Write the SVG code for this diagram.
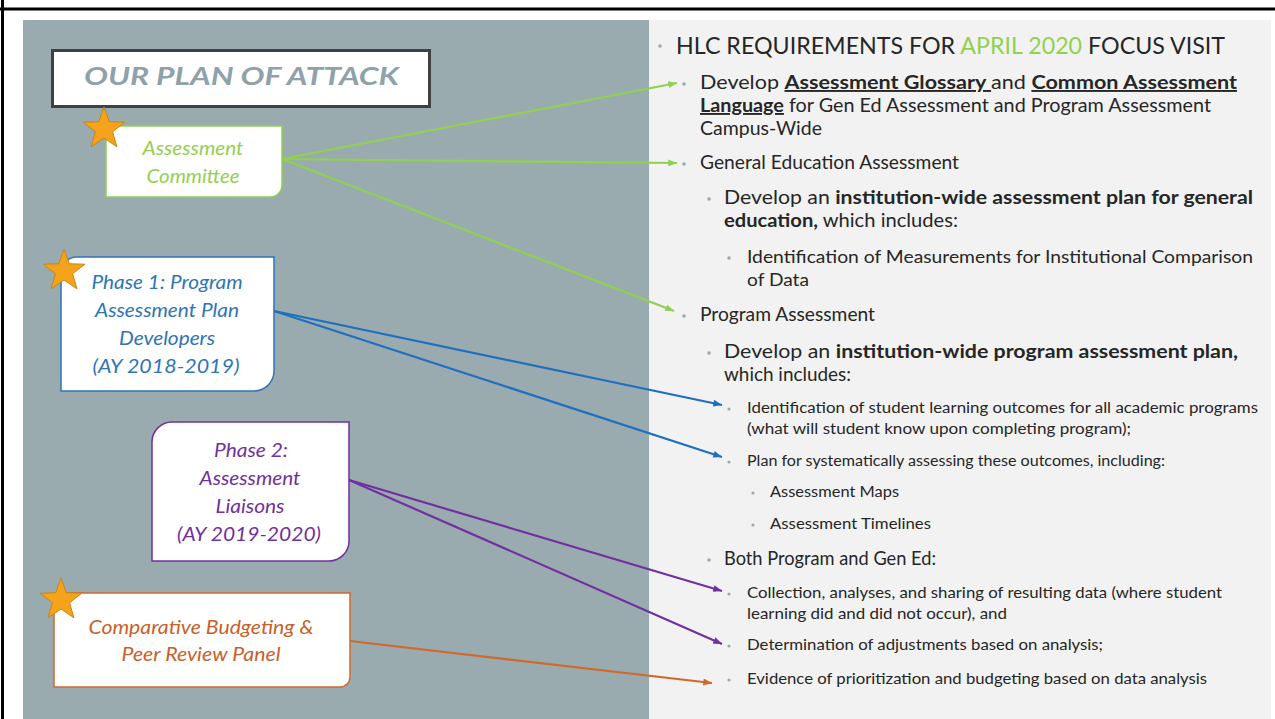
<svg xmlns="http://www.w3.org/2000/svg" width="1275" height="719" viewBox="0 0 1275 719">
<style>
  .box { stroke-width: 1.5; fill: #ffffff; }
  .star { fill: #f5a31a; stroke: #c98516; stroke-width: 1; }
  .lbl { font-family: Lato, "Open Sans", sans-serif; font-style: italic; font-size: 20px; text-anchor: middle; }
  .rt { font-family: Lato, "Open Sans", sans-serif; fill: #262626; }
  .b { font-weight: bold; }
  .u { text-decoration: underline; }
  .bul { fill: #9aabb0; }
  .con { fill: none; stroke-width: 2.2; }
</style>
<defs>
  <path id="starShape" d="M0,-22 L5.29,-7.28 L20.92,-6.8 L8.56,2.78 L12.93,17.8 L0,9 L-12.93,17.8 L-8.56,2.78 L-20.92,-6.8 L-5.29,-7.28 Z"/>
  <marker id="mG" viewBox="0 0 10 8" refX="10" refY="4" markerWidth="9" markerHeight="7" markerUnits="userSpaceOnUse" orient="auto"><path d="M0,0 L10,4 L0,8 Z" fill="#92d050"/></marker>
  <marker id="mB" viewBox="0 0 10 8" refX="10" refY="4" markerWidth="9" markerHeight="7" markerUnits="userSpaceOnUse" orient="auto"><path d="M0,0 L10,4 L0,8 Z" fill="#1f6fbf"/></marker>
  <marker id="mP" viewBox="0 0 10 8" refX="10" refY="4" markerWidth="9" markerHeight="7" markerUnits="userSpaceOnUse" orient="auto"><path d="M0,0 L10,4 L0,8 Z" fill="#7030a0"/></marker>
  <marker id="mO" viewBox="0 0 10 8" refX="10" refY="4" markerWidth="9" markerHeight="7" markerUnits="userSpaceOnUse" orient="auto"><path d="M0,0 L10,4 L0,8 Z" fill="#d0692a"/></marker>
</defs>

<!-- background & frame -->
<rect x="0" y="0" width="1275" height="719" fill="#ffffff"/>
<rect x="23" y="20" width="626" height="699" fill="#9aabb0"/>
<rect x="649" y="20" width="622" height="699" fill="#f2f2f2"/>
<line x1="0" y1="9" x2="1275" y2="9" stroke="#000" stroke-width="3"/>
<line x1="2.5" y1="0" x2="2.5" y2="719" stroke="#000" stroke-width="3"/>

<!-- title box -->
<g id="plan-title">
  <rect x="54" y="52" width="377" height="56" fill="#7d8a90" opacity="0.5"/>
  <rect x="52.5" y="50.5" width="377" height="56" fill="#ffffff" stroke="#404040" stroke-width="3"/>
  <text x="84" y="85" textLength="315" lengthAdjust="spacingAndGlyphs" style="font-family: Lato, 'Open Sans', sans-serif; font-weight: bold; font-style: italic; font-size: 25px; fill: #8fa1a9;">OUR PLAN OF ATTACK</text>
</g>

<!-- connectors -->
<g id="connectors">
  <path class="con" stroke="#92d050" d="M282,159 L677,83" marker-end="url(#mG)"/>
  <path class="con" stroke="#92d050" d="M282,159 L677,163" marker-end="url(#mG)"/>
  <path class="con" stroke="#92d050" d="M282,159 L674,311" marker-end="url(#mG)"/>
  <path class="con" stroke="#1f6fbf" d="M274,311 L722,405" marker-end="url(#mB)"/>
  <path class="con" stroke="#1f6fbf" d="M274,311 L722,457" marker-end="url(#mB)"/>
  <path class="con" stroke="#7030a0" d="M349,480 L722,591" marker-end="url(#mP)"/>
  <path class="con" stroke="#7030a0" d="M349,480 L722,644" marker-end="url(#mP)"/>
  <path class="con" stroke="#d0692a" d="M350,641 L712,683" marker-end="url(#mO)"/>
</g>

<!-- nodes -->
<g id="assessment-committee">
  <path class="box" stroke="#92d050" d="M116,126 H282 V185 A12,12 0 0 1 270,197 H106 V136 A10,10 0 0 1 116,126 Z"/>
  <text class="lbl" x="193" y="155" fill="#92d050" textLength="101" lengthAdjust="spacingAndGlyphs">Assessment</text>
  <text class="lbl" x="193" y="183" fill="#92d050" textLength="93" lengthAdjust="spacingAndGlyphs">Committee</text>
  <use href="#starShape" class="star" transform="translate(104,129)"/>
</g>

<g id="phase1">
  <path class="box" stroke="#2e75b6" d="M77,257 H274 V371 A20,20 0 0 1 254,391 H61 V273 A16,16 0 0 1 77,257 Z"/>
  <text class="lbl" x="167" y="289" fill="#2e75b6" textLength="151" lengthAdjust="spacingAndGlyphs">Phase 1: Program</text>
  <text class="lbl" x="167" y="317" fill="#2e75b6" textLength="144" lengthAdjust="spacingAndGlyphs">Assessment Plan</text>
  <text class="lbl" x="167" y="345" fill="#2e75b6" textLength="96" lengthAdjust="spacingAndGlyphs">Developers</text>
  <text class="lbl" x="166" y="373" fill="#2e75b6" textLength="147" lengthAdjust="spacingAndGlyphs">(AY 2018-2019)</text>
  <use href="#starShape" class="star" transform="translate(64,271)"/>
</g>

<g id="phase2">
  <path class="box" stroke="#7030a0" d="M172,422 H349 V541 A20,20 0 0 1 329,561 H152 V442 A20,20 0 0 1 172,422 Z"/>
  <text class="lbl" x="251" y="457" fill="#7030a0" textLength="74" lengthAdjust="spacingAndGlyphs">Phase 2:</text>
  <text class="lbl" x="250" y="485" fill="#7030a0" textLength="101" lengthAdjust="spacingAndGlyphs">Assessment</text>
  <text class="lbl" x="250" y="513" fill="#7030a0" textLength="69" lengthAdjust="spacingAndGlyphs">Liaisons</text>
  <text class="lbl" x="249" y="541" fill="#7030a0" textLength="144" lengthAdjust="spacingAndGlyphs">(AY 2019-2020)</text>
</g>

<g id="budget-panel">
  <path class="box" stroke="#d0692a" d="M64,593 H350 V677 A10,10 0 0 1 340,687 H54 V603 A10,10 0 0 1 64,593 Z"/>
  <text class="lbl" x="201" y="634" fill="#c8602a" textLength="225" lengthAdjust="spacingAndGlyphs">Comparative Budgeting &amp;</text>
  <text class="lbl" x="201" y="661" fill="#c8602a" textLength="159" lengthAdjust="spacingAndGlyphs">Peer Review Panel</text>
  <use href="#starShape" class="star" transform="translate(61,600)"/>
</g>

<!-- right panel requirements -->
<g id="requirements">
  <circle class="bul" cx="660" cy="46" r="1.8"/>
  <circle class="bul" cx="684" cy="84" r="1.8"/>
  <circle class="bul" cx="684" cy="164" r="1.8"/>
  <circle class="bul" cx="709" cy="199" r="1.8"/>
  <circle class="bul" cx="729" cy="258" r="1.8"/>
  <circle class="bul" cx="684" cy="316" r="1.8"/>
  <circle class="bul" cx="709" cy="353" r="1.8"/>
  <circle class="bul" cx="729" cy="409" r="1.6"/>
  <circle class="bul" cx="729" cy="462" r="1.6"/>
  <circle class="bul" cx="753" cy="493" r="1.6"/>
  <circle class="bul" cx="753" cy="525" r="1.6"/>
  <circle class="bul" cx="709" cy="560" r="1.8"/>
  <circle class="bul" cx="729" cy="594" r="1.6"/>
  <circle class="bul" cx="729" cy="646" r="1.6"/>
  <circle class="bul" cx="729" cy="680" r="1.6"/>

  <text class="rt" x="676" y="54" font-size="24" textLength="549" lengthAdjust="spacingAndGlyphs">HLC REQUIREMENTS FOR <tspan fill="#92d050">APRIL 2020</tspan> FOCUS VISIT</text>
  <text class="rt" x="700" y="89" font-size="19" textLength="537" lengthAdjust="spacingAndGlyphs">Develop <tspan class="b u">Assessment Glossary </tspan>and <tspan class="b u">Common Assessment</tspan></text>
  <text class="rt" x="700" y="112" font-size="19" textLength="511" lengthAdjust="spacingAndGlyphs"><tspan class="b u">Language</tspan> for Gen Ed Assessment and Program Assessment</text>
  <text class="rt" x="700" y="135" font-size="19" textLength="122" lengthAdjust="spacingAndGlyphs">Campus-Wide</text>
  <text class="rt" x="700" y="169" font-size="19" textLength="259" lengthAdjust="spacingAndGlyphs">General Education Assessment</text>
  <text class="rt" x="724" y="204" font-size="19" textLength="529" lengthAdjust="spacingAndGlyphs">Develop an <tspan class="b">institution-wide assessment plan for general</tspan></text>
  <text class="rt" x="724" y="227" font-size="19" textLength="234" lengthAdjust="spacingAndGlyphs"><tspan class="b">education,</tspan> which includes:</text>
  <text class="rt" x="747" y="263" font-size="18" textLength="506" lengthAdjust="spacingAndGlyphs">Identification of Measurements for Institutional Comparison</text>
  <text class="rt" x="747" y="286" font-size="18" textLength="62" lengthAdjust="spacingAndGlyphs">of Data</text>
  <text class="rt" x="700" y="321" font-size="19" textLength="175" lengthAdjust="spacingAndGlyphs">Program Assessment</text>
  <text class="rt" x="724" y="358" font-size="19" textLength="514" lengthAdjust="spacingAndGlyphs">Develop an <tspan class="b">institution-wide program assessment plan,</tspan></text>
  <text class="rt" x="724" y="381" font-size="19" textLength="127" lengthAdjust="spacingAndGlyphs">which includes:</text>
  <text class="rt" x="747" y="413" font-size="14.5" textLength="511" lengthAdjust="spacingAndGlyphs">Identification of student learning outcomes for all academic programs</text>
  <text class="rt" x="747" y="434" font-size="14.5" textLength="384" lengthAdjust="spacingAndGlyphs">(what will student know upon completing program);</text>
  <text class="rt" x="747" y="466" font-size="14.5" textLength="418" lengthAdjust="spacingAndGlyphs">Plan for systematically assessing these outcomes, including:</text>
  <text class="rt" x="770" y="497" font-size="14.5" textLength="129" lengthAdjust="spacingAndGlyphs">Assessment Maps</text>
  <text class="rt" x="770" y="529" font-size="14.5" textLength="161" lengthAdjust="spacingAndGlyphs">Assessment Timelines</text>
  <text class="rt" x="724" y="565" font-size="19" textLength="212" lengthAdjust="spacingAndGlyphs">Both Program and Gen Ed:</text>
  <text class="rt" x="747" y="598" font-size="15" textLength="475" lengthAdjust="spacingAndGlyphs">Collection, analyses, and sharing of resulting data (where student</text>
  <text class="rt" x="747" y="619" font-size="15" textLength="260" lengthAdjust="spacingAndGlyphs">learning did and did not occur), and</text>
  <text class="rt" x="747" y="650" font-size="15" textLength="356" lengthAdjust="spacingAndGlyphs">Determination of adjustments based on analysis;</text>
  <text class="rt" x="747" y="684" font-size="15" textLength="460" lengthAdjust="spacingAndGlyphs">Evidence of prioritization and budgeting based on data analysis</text>
</g>
</svg>
